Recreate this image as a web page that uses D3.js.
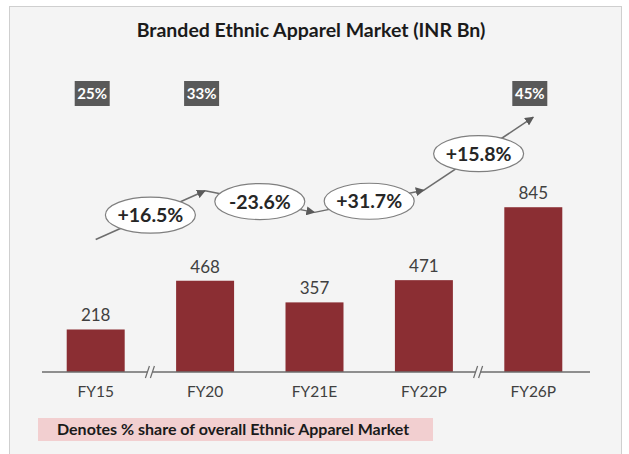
<!DOCTYPE html>
<html>
<head>
<meta charset="utf-8">
<script src="https://cdn.jsdelivr.net/npm/d3@7"></script>
<style>
    html, body { margin: 0; padding: 0; background: #ffffff; }
    svg { display: block; font-family: Lato, 'Open Sans', sans-serif; }
</style>
</head>
<body>
<div id="chart"></div>
<script>
/*global d3: false*/

var categories = ['FY15', 'FY20', 'FY21E', 'FY22P', 'FY26P'];
var values = [218, 468, 357, 471, 845];
var growthLabels = ['+16.5%', '-23.6%', '+31.7%', '+15.8%'];
var shareCategories = ['FY15', 'FY20', 'FY26P'];
var shareLabels = ['25%', '33%', '45%'];
var breakAfter = ['FY15', 'FY22P'];
var title = 'Branded Ethnic Apparel Market (INR Bn)';
var legendText = 'Denotes % share of overall Ethnic Apparel Market';

(function() {
    'use strict';
    var width, height, svg, x, y, baseY, points, i, defs, bw, bx, p, q;

    width = 629;
    height = 454;
    baseY = 372;

    svg = d3.select('#chart').append('svg')
        .attr('width', width)
        .attr('height', height);

    defs = svg.append('defs');
    defs.append('marker')
        .attr('id', 'head')
        .attr('viewBox', '0 0 10 10')
        .attr('refX', 9)
        .attr('refY', 5)
        .attr('markerWidth', 9)
        .attr('markerHeight', 9)
        .attr('markerUnits', 'userSpaceOnUse')
        .attr('orient', 'auto')
        .append('path')
        .attr('d', 'M0,0 L10,5 L0,10 z')
        .attr('fill', '#5a5a5a');

    // Panel
    svg.append('rect')
        .attr('x', 9.5)
        .attr('y', 6.5)
        .attr('width', 612)
        .attr('height', 460)
        .attr('fill', '#f4f4f4')
        .attr('stroke', '#cfcfcf')
        .attr('stroke-width', 1);

    svg.append('text')
        .attr('x', 311)
        .attr('y', 37)
        .attr('text-anchor', 'middle')
        .attr('font-size', '19.5')
        .attr('font-weight', 'bold')
        .attr('fill', '#1a1a1a')
        .text(title);

    x = d3.scaleBand()
        .domain(categories)
        .range([41, 588])
        .paddingInner(0.47)
        .paddingOuter(0.235);

    y = d3.scaleLinear()
        .domain([0, 1000])
        .range([baseY, 177]);

    // Bars
    svg.selectAll('rect.bar')
        .data(values)
        .enter().append('rect')
        .attr('class', 'bar')
        .attr('x', function(d, k) { return x(categories[k]); })
        .attr('y', function(d) { return y(d); })
        .attr('width', x.bandwidth())
        .attr('height', function(d) { return baseY - y(d); })
        .attr('fill', '#8b2e33');

    svg.selectAll('text.val')
        .data(values)
        .enter().append('text')
        .attr('class', 'val')
        .attr('x', function(d, k) { return x(categories[k]) + x.bandwidth() / 2; })
        .attr('y', function(d) { return y(d) - 8; })
        .attr('text-anchor', 'middle')
        .attr('font-size', '17')
        .attr('fill', '#404040')
        .text(function(d) { return d; });

    // Axis
    svg.append('g')
        .attr('transform', 'translate(0,' + baseY + ')')
        .call(d3.axisBottom(x).tickSize(0).tickPadding(14))
        .call(function(g) {
            g.select('.domain')
                .attr('d', 'M42,0H590')
                .attr('stroke', '#6d6d6d')
                .attr('stroke-width', 1.5);
            g.selectAll('text')
                .attr('font-family', 'Lato, sans-serif')
                .attr('font-size', '15.5')
                .attr('fill', '#404040');
        });

    // Axis breaks
    breakAfter.forEach(function(c) {
        var idx, bx0;
        idx = categories.indexOf(c);
        bx0 = (x(c) + x.bandwidth() + x(categories[idx + 1])) / 2;
        svg.append('rect')
            .attr('x', bx0 - 3)
            .attr('y', baseY - 2)
            .attr('width', 5)
            .attr('height', 4)
            .attr('fill', '#f4f4f4');
        [-3, 2].forEach(function(o) {
            svg.append('line')
                .attr('x1', bx0 + o - 2)
                .attr('y1', baseY + 6)
                .attr('x2', bx0 + o + 2)
                .attr('y2', baseY - 6)
                .attr('stroke', '#6d6d6d')
                .attr('stroke-width', 1.2);
        });
    });

    // Growth arrows
    points = [];
    for (i = 0; i < categories.length; i++) {
        points[i] = [x(categories[i]) + x.bandwidth() / 2, y(values[i]) - 90];
    }
    for (i = 0; i < growthLabels.length; i++) {
        p = points[i];
        q = points[i + 1];
        svg.append('line')
            .attr('x1', p[0])
            .attr('y1', p[1])
            .attr('x2', q[0])
            .attr('y2', q[1])
            .attr('stroke', '#6d6d6d')
            .attr('stroke-width', 1.5)
            .attr('marker-end', 'url(#head)');
    }
    for (i = 0; i < growthLabels.length; i++) {
        p = points[i];
        q = points[i + 1];
        svg.append('ellipse')
            .attr('cx', (p[0] + q[0]) / 2)
            .attr('cy', (p[1] + q[1]) / 2)
            .attr('rx', 45)
            .attr('ry', 18)
            .attr('fill', '#ffffff')
            .attr('stroke', '#7f7f7f')
            .attr('stroke-width', 1.2);
        svg.append('text')
            .attr('x', (p[0] + q[0]) / 2)
            .attr('y', (p[1] + q[1]) / 2 + 7)
            .attr('text-anchor', 'middle')
            .attr('font-size', '19.5')
            .attr('font-weight', 'bold')
            .attr('fill', '#262626')
            .text(growthLabels[i]);
    }

    // Share boxes
    bw = 35;
    for (i = 0; i < shareCategories.length; i++) {
        bx = x(shareCategories[i]) + x.bandwidth() / 2 - 3.5;
        svg.append('rect')
            .attr('x', bx - bw / 2)
            .attr('y', 81)
            .attr('width', bw)
            .attr('height', 25)
            .attr('fill', '#595959');
        svg.append('text')
            .attr('x', bx)
            .attr('y', 99)
            .attr('text-anchor', 'middle')
            .attr('font-size', '15')
            .attr('font-weight', 'bold')
            .attr('fill', '#ffffff')
            .text(shareLabels[i]);
    }

    // Legend
    svg.append('rect')
        .attr('x', 38)
        .attr('y', 418)
        .attr('width', 395)
        .attr('height', 23)
        .attr('fill', '#f2cfd0');
    svg.append('text')
        .attr('x', 57)
        .attr('y', 435)
        .attr('font-size', '16')
        .attr('font-weight', 'bold')
        .attr('fill', '#1a1a1a')
        .text(legendText);
}());
</script>
</body>
</html>
